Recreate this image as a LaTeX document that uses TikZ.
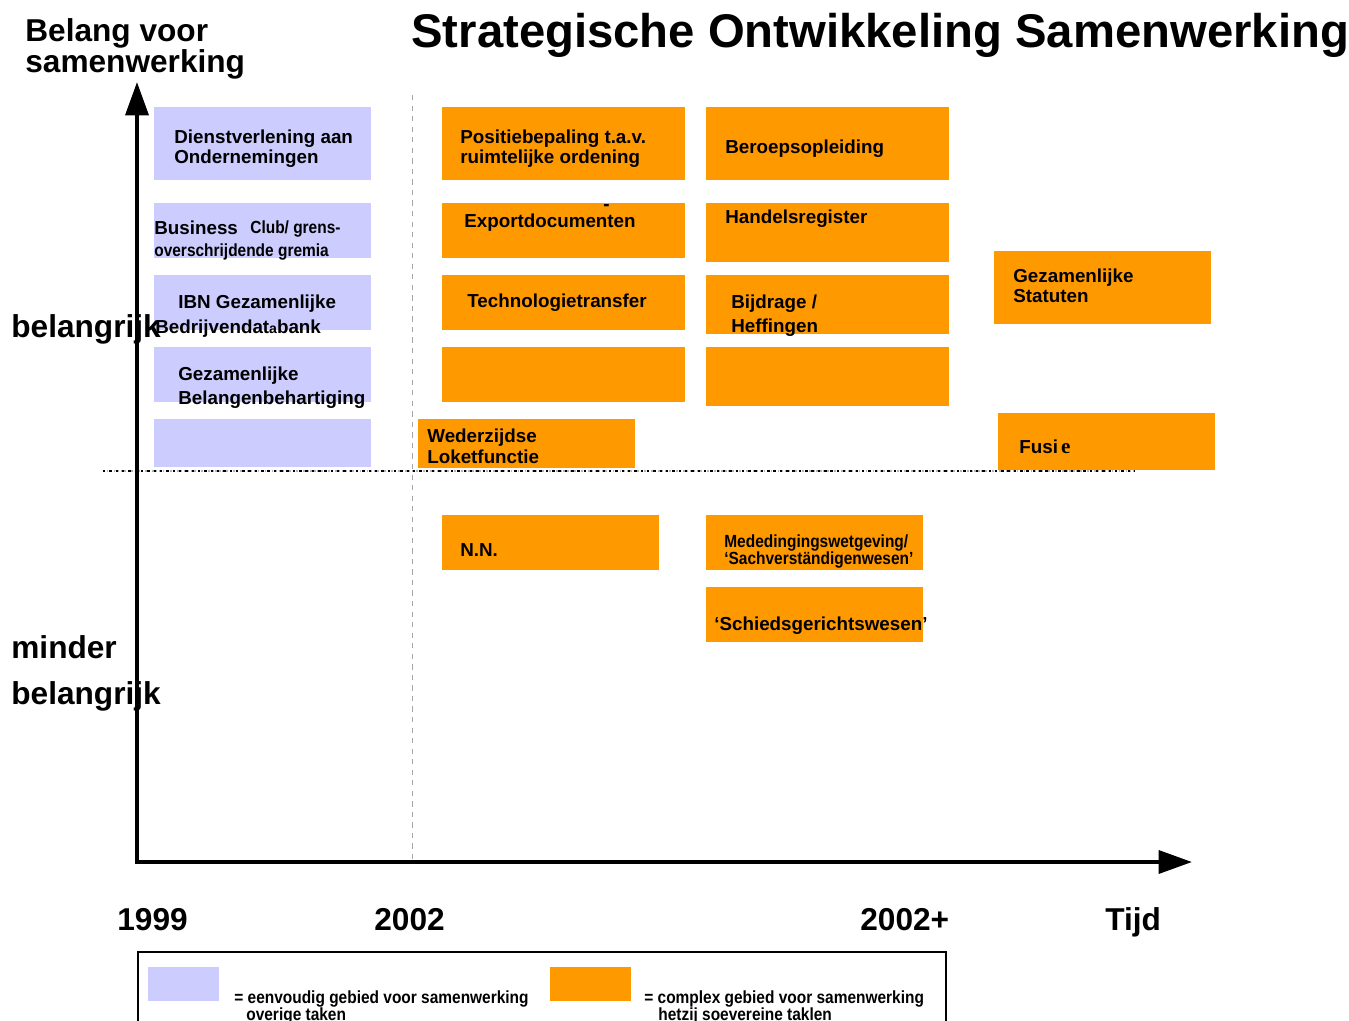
\documentclass[tikz,border=0pt]{standalone}
\usepackage{fontspec}
\setmainfont{Liberation Sans}
\newfontfamily\narrowsf{Liberation Sans}[FakeStretch=0.88]
\newfontfamily\serifsf{Liberation Serif}
\usetikzlibrary{arrows.meta}
\definecolor{lavender}{RGB}{204,204,255}
\definecolor{oranje}{RGB}{255,153,0}

\begin{document}
\begin{tikzpicture}[x=0.02cm,y=-0.02cm,
  txt/.style={anchor=base west,inner sep=0pt,font=\bfseries\fontsize{10.7}{12}\selectfont},
  smalltxt/.style={txt,font=\narrowsf\bfseries\fontsize{10}{11}\selectfont},
  axtxt/.style={anchor=base west,inner sep=0pt,font=\bfseries\fontsize{18}{20}\selectfont}]
\useasboundingbox (0,0) rectangle (1349,1021);
\draw[gray!70,dashed,line width=0.3pt] (412,95) -- (412,862);
\foreach \xa/\ya/\xb/\yb in {154/107/371/180,154/203/371/258,154/275/371/330,154/347/371/402,154/419/371/467} {
  \fill[lavender] (\xa,\ya) rectangle (\xb,\yb);
}
\foreach \xa/\ya/\xb/\yb in {442/107/685/180,442/203/685/258,442/275/685/330,442/347/685/402,418/419/635/468,
  706/107/949/180,706/203/949/262,706/275/949/334,706/347/949/406,994/251/1211/324,998/413/1215/470,
  442/515/659/570,706/515/923/570,706/587/923/642} {
  \fill[oranje] (\xa,\ya) rectangle (\xb,\yb);
}
\draw[gray!60,line width=1.2pt,dash pattern=on 1pt off 1pt] (103,471) -- (1135,471);
\draw[line width=1.3pt,dash pattern=on 1.4pt off 2.2pt] (103,471) -- (1135,471);
\coordinate (ytop) at (137,82);
\coordinate (orig) at (137,862);
\coordinate (xend) at (1192,862);
\draw[line width=2.3pt,{Triangle[length=19pt,width=13pt]}-{Triangle[length=19pt,width=13pt]}] (ytop) -- (orig) -- (xend);

\node[anchor=base west,inner sep=0pt,font=\bfseries\fontsize{26.9}{28}\selectfont] (titel) at (411,48) {Strategische Ontwikkeling Samenwerking};
\node[axtxt] (belang) at (25,41) {Belang voor};
\node[axtxt] (samen) at (25,72) {samenwerking};
\node[axtxt] (hoog) at (11,337) {belangrijk};
\node[axtxt] (minder) at (11,658) {minder};
\node[axtxt] (laag) at (11,704) {belangrijk};
\node[axtxt] (j1999) at (117,930) {1999};
\node[axtxt] (j2002) at (374,930) {2002};
\node[axtxt] (j2002p) at (860,930) {2002+};
\node[axtxt] (tijd) at (1105,930) {Tijd};

\node[txt] (dienst) at (174,143) {Dienstverlening aan};
\node[txt] (onder) at (174,163) {Ondernemingen};
\node[txt] (business) at (154,234) {Business};
\node[smalltxt] (club) at (250,233) {Club/ grens-};
\node[smalltxt] (gremia) at (154,256) {overschrijdende gremia};
\node[txt] (ibn) at (178,308) {IBN Gezamenlijke};
\node[txt] (databank) at (155,333) {Bedrijvendat{\fontsize{8}{9}\selectfont a}bank};
\node[txt] (gezam) at (178,380) {Gezamenlijke};
\node[txt] (behart) at (178,404) {Belangenbehartiging};

\node[txt] (positie) at (460,143) {Positiebepaling t.a.v.};
\node[txt] (ruimte) at (460,163) {ruimtelijke ordening};
\node[txt] (streep) at (603,210) {-};
\node[txt] (export) at (464,227) {Exportdocumenten};
\node[txt] (techno) at (467,307) {Technologietransfer};
\node[txt] (weder) at (427,442) {Wederzijdse};
\node[txt] (loket) at (427,463) {Loketfunctie};

\node[txt] (beroep) at (725,153) {Beroepsopleiding};
\node[txt] (handel) at (725,223) {Handelsregister};
\node[txt] (bijdrage) at (731,308) {Bijdrage /};
\node[txt] (heffing) at (731,332) {Heffingen};

\node[txt] (gezstat) at (1013,282) {Gezamenlijke};
\node[txt] (statuten) at (1013,302) {Statuten};
\node[txt] (fusie) at (1019,453) {Fusi\,{\serifsf\bfseries\fontsize{12}{12}\selectfont e}};

\node[txt] (nn) at (460,556) {N.N.};
\node[smalltxt] (mededing) at (724,547) {Mededingingswetgeving/};
\node[smalltxt] (sachver) at (724,564) {‘Sachverständigenwesen’};
\node[txt] (schieds) at (714,630) {‘Schiedsgerichtswesen’};

\draw[line width=1.1pt] (138,952) rectangle (946,1024);
\fill[lavender] (148,967) rectangle (219,1001);
\fill[oranje] (550,967) rectangle (631,1001);
\node[smalltxt] (eenvoudig) at (234,1003) {= eenvoudig gebied voor samenwerking};
\node[smalltxt] (overig) at (246,1020) {overige taken};
\node[smalltxt] (complex) at (644,1003) {= complex gebied voor samenwerking};
\node[smalltxt] (soeverein) at (658,1020) {hetzij soevereine taklen};
\end{tikzpicture}
\end{document}
